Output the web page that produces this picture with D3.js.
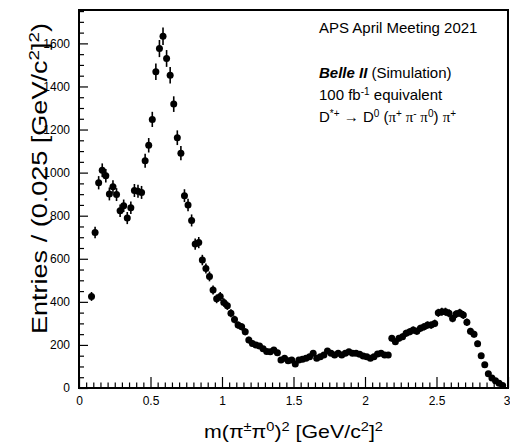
<!DOCTYPE html>
<html>
<head>
<meta charset="utf-8">
<script src="https://cdn.jsdelivr.net/npm/d3@7"></script>
<style>
  html, body { margin: 0; padding: 0; background: #fff; }
  svg { display: block; }
  text { font-family: "Liberation Sans", Arial, Helvetica, sans-serif; fill: #000; }
  .greek { font-family: "Liberation Serif", "Times New Roman", serif; }
</style>
</head>
<body>
<svg id="chart" width="510" height="444"></svg>
<script>
// Histogram binning: 0.025 GeV^2/c^4 wide bins, first bin starts at 0.075
const binStart = 0.075;
const binWidth = 0.025;

// Entries per bin, lowest bin first
const entries = [
  425, 722, 953, 1011, 985, 901, 934, 898, 823, 846,
  789, 837, 917, 913, 908, 1055, 1127, 1247, 1468, 1576,
  1633, 1530, 1452, 1318, 1162, 1090, 893, 850, 778, 668,
  675, 594, 555, 518, 455, 414, 425, 397, 382, 347,
  318, 292, 284, 261, 223, 207, 200, 195, 182, 170,
  168, 176, 164, 130, 138, 127, 130, 112, 130, 133,
  138, 145, 161, 138, 145, 153, 172, 161, 153, 161,
  153, 161, 168, 161, 161, 157, 148, 145, 138, 145,
  158, 161, 153, 153, 231, 215, 231, 238, 254, 261,
  269, 264, 277, 284, 292, 292, 300, 349, 354, 354,
  347, 323, 343, 349, 339, 305, 263, 250, 205, 150,
  108, 66, 46, 34, 22, 12
];

const xMajorTicks = [0, 0.5, 1, 1.5, 2, 2.5, 3];
const xTickLabels = ["0", "0.5", "1", "1.5", "2", "2.5", "3"];
const yMajorTicks = [0, 200, 400, 600, 800, 1000, 1200, 1400, 1600];
const yTickLabels = ["0", "200", "400", "600", "800", "1000", "1200", "1400", "1600"];

const points = entries.map((n, i) => ({
  x: binStart + binWidth * (i + 0.5),
  n: n,
  err: Math.sqrt(n)
}));

const svg = d3.select("#chart");
const frame = { left: 79, right: 508, top: 10, bottom: 388 };

const x = d3.scaleLinear().domain([0, 3]).range([frame.left, frame.right]);
const y = d3.scaleLinear().domain([0, 1755]).range([frame.bottom, frame.top]);

// minor ticks
const xMinor = d3.range(0, 3.0001, 0.05).filter(v => Math.abs(v / 0.5 - Math.round(v / 0.5)) > 1e-6);
const yMinor = d3.range(0, 1751, 50).filter(v => v % 200 !== 0);

// x axis (ticks pointing into the frame)
const gx = svg.append("g").attr("transform", `translate(0,${frame.bottom})`);
gx.call(d3.axisBottom(x).tickValues(xMinor).tickSizeInner(-5.5).tickSizeOuter(0).tickFormat(""));
gx.append("g").call(d3.axisBottom(x).tickValues(xMajorTicks).tickSizeInner(-11).tickSizeOuter(0)
  .tickPadding(8).tickFormat((d, i) => xTickLabels[i]));
gx.selectAll(".domain").remove();
gx.selectAll("line").attr("stroke", "#000").attr("stroke-width", 1.2);
gx.selectAll("text").attr("font-size", 12).attr("font-family", "Liberation Sans, Arial, sans-serif");
// keep the last label inside the canvas
gx.selectAll("text").filter(d => d === 3).attr("dx", -1.5);

// y axis
const gy = svg.append("g").attr("transform", `translate(${frame.left},0)`);
gy.call(d3.axisLeft(y).tickValues(yMinor).tickSizeInner(-5).tickSizeOuter(0).tickFormat(""));
gy.append("g").call(d3.axisLeft(y).tickValues(yMajorTicks).tickSizeInner(-9).tickSizeOuter(0)
  .tickPadding(9).tickFormat((d, i) => yTickLabels[i]));
gy.selectAll(".domain").remove();
gy.selectAll("line").attr("stroke", "#000").attr("stroke-width", 1.2);
gy.selectAll("text").attr("font-size", 12).attr("font-family", "Liberation Sans, Arial, sans-serif");

// frame
svg.append("rect")
  .attr("x", frame.left).attr("y", frame.top)
  .attr("width", frame.right - frame.left).attr("height", frame.bottom - frame.top)
  .attr("fill", "none").attr("stroke", "#000").attr("stroke-width", 2);

// data: error bars and markers
const data = svg.append("g");
data.selectAll("line.err").data(points).join("line")
  .attr("class", "err")
  .attr("x1", d => x(d.x)).attr("x2", d => x(d.x))
  .attr("y1", d => y(d.n + d.err)).attr("y2", d => y(Math.max(0, d.n - d.err)))
  .attr("stroke", "#000").attr("stroke-width", 1.6);
data.selectAll("circle").data(points).join("circle")
  .attr("cx", d => x(d.x)).attr("cy", d => y(d.n))
  .attr("r", 3.5).attr("fill", "#000");

// y axis title, reading upwards from the bottom of the frame
const yt = svg.append("text")
  .attr("transform", "translate(47,334) rotate(-90)")
  .attr("text-anchor", "start").attr("font-size", 21.5)
  .attr("textLength", 311).attr("lengthAdjust", "spacingAndGlyphs");
yt.append("tspan").text("Entries / (0.025 [GeV/c");
yt.append("tspan").attr("baseline-shift", "super").attr("font-size", 15).text("2");
yt.append("tspan").text("]");
yt.append("tspan").attr("baseline-shift", "super").attr("font-size", 15).text("2");
yt.append("tspan").text(")");

// x axis title
const xt = svg.append("text")
  .attr("x", 204).attr("y", 438)
  .attr("text-anchor", "start").attr("font-size", 19)
  .attr("textLength", 179).attr("lengthAdjust", "spacingAndGlyphs");
xt.append("tspan").text("m(π");
xt.append("tspan").attr("baseline-shift", "super").attr("font-size", 13).text("±");
xt.append("tspan").text("π");
xt.append("tspan").attr("baseline-shift", "super").attr("font-size", 13).text("0");
xt.append("tspan").text(")");
xt.append("tspan").attr("baseline-shift", "super").attr("font-size", 13).text("2");
xt.append("tspan").text(" [GeV/c");
xt.append("tspan").attr("baseline-shift", "super").attr("font-size", 13).text("2");
xt.append("tspan").text("]");
xt.append("tspan").attr("baseline-shift", "super").attr("font-size", 13).text("2");

// annotations
const ann = svg.append("g").attr("font-size", 15);
ann.append("text").attr("x", 319).attr("y", 33).text("APS April Meeting 2021");

const l1 = ann.append("text").attr("x", 319).attr("y", 78);
l1.append("tspan").attr("font-weight", "bold").attr("font-style", "italic").text("Belle II");
l1.append("tspan").text(" (Simulation)");

const l2 = ann.append("text").attr("x", 319).attr("y", 100);
l2.append("tspan").text("100 fb");
l2.append("tspan").attr("baseline-shift", "super").attr("font-size", 10).text("-1");
l2.append("tspan").text(" equivalent");

const l3 = ann.append("text").attr("x", 319).attr("y", 122);
l3.append("tspan").text("D");
l3.append("tspan").attr("baseline-shift", "super").attr("font-size", 10).text("*+");
l3.append("tspan").text(" \u2192 D");
l3.append("tspan").attr("baseline-shift", "super").attr("font-size", 10).text("0");
l3.append("tspan").text(" (");
l3.append("tspan").attr("class", "greek").text("\u03C0");
l3.append("tspan").attr("baseline-shift", "super").attr("font-size", 10).text("+");
l3.append("tspan").attr("class", "greek").text(" \u03C0");
l3.append("tspan").attr("baseline-shift", "super").attr("font-size", 10).text("-");
l3.append("tspan").attr("class", "greek").text(" \u03C0");
l3.append("tspan").attr("baseline-shift", "super").attr("font-size", 10).text("0");
l3.append("tspan").text(") ");
l3.append("tspan").attr("class", "greek").text("\u03C0");
l3.append("tspan").attr("baseline-shift", "super").attr("font-size", 10).text("+");
</script>
</body>
</html>
